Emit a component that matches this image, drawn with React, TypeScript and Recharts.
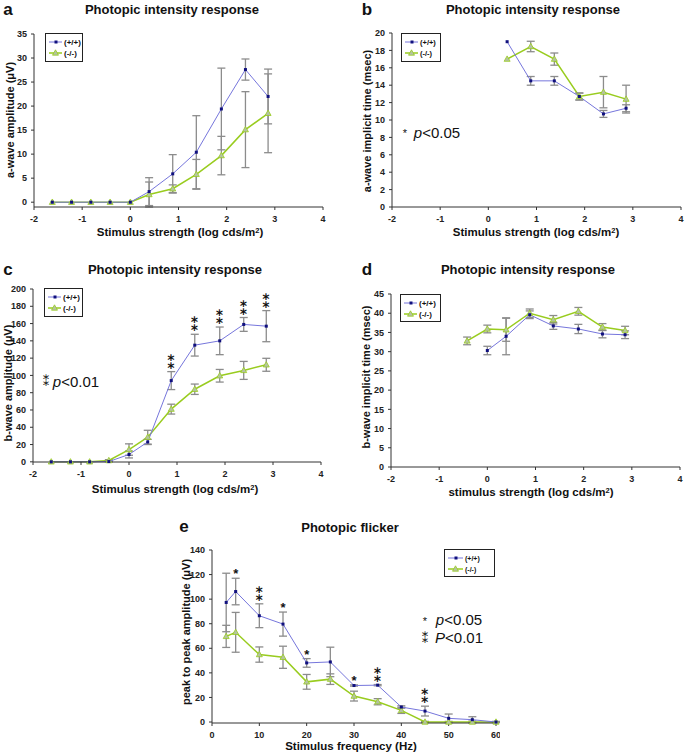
import React from "react";
import { LineChart, Line, XAxis, YAxis, ErrorBar } from "recharts";

const FONT = '"Liberation Sans", Arial, sans-serif';
const BLUE_LINE = "#7676dc";
const BLUE_DOT = "#10107e";
const GREEN_LINE = "#99cc1f";
const TRI_FILL = "#b4c3a2";
const ERR = "#8c8c8c";

// stimulus strength steps (log cds/m2)
const intensity = [-1.62, -1.22, -0.82, -0.42, 0, 0.39, 0.88, 1.37, 1.89, 2.39, 2.86];

// a: a-wave amplitude (uV)
const aWt = [0, 0, 0, 0, 0, 2.2, 5.9, 10.4, 19.4, 27.6, 22.0];
const aWtErr = [0, 0, 0, 0, 0, 2.9, 4.0, 7.6, 8.5, 2.2, 5.7];
const aKo = [0, 0, 0, 0, 0, 1.6, 2.8, 5.8, 9.7, 15.1, 18.5];
const aKoErr = [0, 0, 0, 0, 0, 2.6, 0.8, 3.1, 4.0, 7.9, 8.2];

// b: a-wave implicit time (msec), from 0.39
const bWt = [19.0, 14.5, 14.5, 12.7, 10.7, 11.35];
const bWtErr = [0, 0.5, 0.5, 0.4, 0.4, 0.4];
const bKo = [17.0, 18.45, 17.0, 12.7, 13.2, 12.4];
const bKoErr = [0, 0.6, 0.7, 0.4, 1.8, 1.6];

// c: b-wave amplitude (uV)
const cWt = [0, 0, 0, 0.3, 8.5, 23, 94, 135, 140, 159, 157];
const cWtErr = [0, 0, 0, 0.5, 4, 3, 10.4, 12.6, 16, 8, 18];
const cKo = [0, 0, 0, 1.5, 14.2, 28.5, 61, 84, 99.6, 105.8, 112.3];
const cKoErr = [0, 0, 0, 1, 6.6, 8, 5.7, 6, 7.3, 10.4, 7.5];
const cStars = [0, 0, 0, 0, 0, 0, 2, 2, 2, 2, 2];

// d: b-wave implicit time (msec); wt from 0, ko from -0.42
const dWt = [30.3, 34.0, 39.6, 36.7, 35.9, 34.6, 34.4];
const dWtErr = [1.1, 4.8, 1.0, 0.9, 1.2, 1.0, 1.0];
const dKo = [32.8, 35.9, 35.7, 40.0, 38.3, 40.5, 36.4, 35.5];
const dKoErr = [1.0, 1.0, 3.0, 1.1, 1.1, 1.0, 0.9, 1.1];

// e: flicker, peak to peak amplitude (uV)
const freq = [3, 5, 10, 15, 20, 25, 30, 35, 40, 45, 50, 55, 60];
const eWt = [97.3, 106.2, 86.5, 79.7, 48.1, 48.9, 29.7, 30.0, 12.2, 8.9, 3.0, 1.9, 0];
const eWtErr = [23.8, 10.8, 9.7, 9.8, 3.5, 12, 0.5, 0.5, 1, 4, 3.5, 2.4, 0];
const eKo = [69.7, 73, 54.9, 52.7, 32.7, 34.9, 21.1, 16.5, 9.5, 0, 0, 0, 0];
const eKoErr = [9, 16.2, 6.2, 9, 6, 4.3, 4, 2.5, 2.5, 0.5, 0.5, 0.8, 0.5];
const eStars = [0, 1, 2, 1, 1, 0, 1, 2, 0, 2, 0, 0, 0];

const logTicks = [-2, -1, 0, 1, 2, 3, 4];

const series = (xs: number[], ys: number[], es: number[]) =>
  ys.map((y, i) => ({ x: xs[i], y, e: es[i] }));

const starPoints = (xs: number[], ys: number[], es: number[], n: number[]) =>
  xs.map((x, i) => ({ x, y: ys[i] + es[i], n: n[i] })).filter((p) => p.n > 0);

const panels = [
  {
    id: "a",
    plot: { left: 34, top: 34, right: 323, bottom: 207 },
    xDomain: [-2, 4], xTicks: logTicks,
    yDomain: [0, 35], yTicks: [0, 5, 10, 15, 20, 25, 30, 35],
    wt: series(intensity, aWt, aWtErr),
    ko: series(intensity, aKo, aKoErr),
    stars: [],
    legend: { left: 45, top: 33, width: 38, height: 29, lineW: 13, fs: 8 },
  },
  {
    id: "b",
    plot: { left: 392, top: 33, right: 681, bottom: 207 },
    xDomain: [-2, 4], xTicks: logTicks,
    yDomain: [0, 20], yTicks: [0, 2, 4, 6, 8, 10, 12, 14, 16, 18, 20],
    wt: series(intensity.slice(5), bWt, bWtErr),
    ko: series(intensity.slice(5), bKo, bKoErr),
    stars: [],
    legend: { left: 401, top: 33, width: 40, height: 29, lineW: 13, fs: 7.5 },
  },
  {
    id: "c",
    plot: { left: 33, top: 289, right: 321, bottom: 462 },
    xDomain: [-2, 4], xTicks: logTicks,
    yDomain: [0, 200], yTicks: [0, 20, 40, 60, 80, 100, 120, 140, 160, 180, 200],
    wt: series(intensity, cWt, cWtErr),
    ko: series(intensity, cKo, cKoErr),
    stars: starPoints(intensity, cWt, cWtErr, cStars),
    legend: { left: 44, top: 288, width: 39, height: 29, lineW: 13, fs: 8 },
  },
  {
    id: "d",
    plot: { left: 391, top: 294, right: 680, bottom: 467 },
    xDomain: [-2, 4], xTicks: logTicks,
    yDomain: [0, 45], yTicks: [0, 5, 10, 15, 20, 25, 30, 35, 40, 45],
    wt: series(intensity.slice(4), dWt, dWtErr),
    ko: series(intensity.slice(3), dKo, dKoErr),
    stars: [],
    legend: { left: 400, top: 294, width: 41, height: 28, lineW: 13, fs: 8 },
  },
  {
    id: "e",
    plot: { left: 212, top: 550, right: 496, bottom: 723 },
    xDomain: [0, 60], xTicks: [0, 10, 20, 30, 40, 50, 60],
    yDomain: [0, 140], yTicks: [0, 20, 40, 60, 80, 100, 120, 140],
    wt: series(freq, eWt, eWtErr),
    ko: series(freq, eKo, eKoErr),
    stars: starPoints(freq, eWt, eWtErr, eStars),
    legend: { left: 444, top: 549, width: 51, height: 28, lineW: 15, fs: 7 },
  },
];

const SquareDot = (p: any) => {
  if (p.cx == null || p.cy == null) return <g key={p.key} />;
  return <rect key={p.key} x={p.cx - 1.5} y={p.cy - 1.5} width={3} height={3} fill={BLUE_DOT} />;
};

const TriDot = (p: any) => {
  if (p.cx == null || p.cy == null) return <g key={p.key} />;
  const { cx, cy } = p;
  return (
    <polygon
      key={p.key}
      points={`${cx},${cy - 3.2} ${cx - 3},${cy + 2.2} ${cx + 3},${cy + 2.2}`}
      fill={TRI_FILL}
      stroke={GREEN_LINE}
      strokeWidth={0.8}
    />
  );
};

// significance stars above the error bar top: "*" or the stacked "⁑"
const StarDot = (p: any) => {
  if (p.cx == null || p.cy == null) return <g key={p.key} />;
  const two = p.payload.n === 2;
  return (
    <text
      key={p.key}
      x={p.cx}
      y={two ? p.cy - 3 : p.cy}
      textAnchor="middle"
      fontSize={two ? 17 : 13}
      fontWeight="bold"
      fontFamily={two ? '"DejaVu Sans", sans-serif' : FONT}
      fill="#111"
    >
      {two ? "⁑" : "*"}
    </text>
  );
};

const tickStyle = { fontSize: 9, fontWeight: "bold", fill: "#222", fontFamily: FONT };

function Panel({ cfg }: { cfg: any }) {
  const { plot } = cfg;
  const yW = 34;
  const xH = 30;
  const mt = 8;
  const mr = 4;
  const w = plot.right - plot.left + yW + mr;
  const h = plot.bottom - plot.top + mt + xH;
  return (
    <div style={{ position: "absolute", left: plot.left - yW, top: plot.top - mt }}>
      <LineChart width={w} height={h} margin={{ top: mt, right: mr, bottom: 0, left: 0 }}>
        <XAxis
          type="number"
          dataKey="x"
          domain={cfg.xDomain}
          ticks={cfg.xTicks}
          interval={0}
          height={xH}
          tickSize={3}
          tickMargin={6}
          tick={tickStyle}
          stroke="#333"
        />
        <YAxis
          type="number"
          dataKey="y"
          domain={cfg.yDomain}
          ticks={cfg.yTicks}
          interval={0}
          width={yW}
          tickSize={3}
          tickMargin={4}
          tick={tickStyle}
          stroke="#333"
        />
        <Line
          data={cfg.ko}
          dataKey="y"
          stroke={GREEN_LINE}
          strokeWidth={1.5}
          dot={TriDot}
          activeDot={false}
          isAnimationActive={false}
        >
          <ErrorBar dataKey="e" direction="y" width={4} stroke={ERR} strokeWidth={1.3} />
        </Line>
        <Line
          data={cfg.wt}
          dataKey="y"
          stroke={BLUE_LINE}
          strokeWidth={1}
          dot={SquareDot}
          activeDot={false}
          isAnimationActive={false}
        >
          <ErrorBar dataKey="e" direction="y" width={4} stroke={ERR} strokeWidth={1.3} />
        </Line>
        {cfg.stars.length > 0 && (
          <Line
            data={cfg.stars}
            dataKey="y"
            stroke="none"
            dot={StarDot}
            activeDot={false}
            isAnimationActive={false}
          />
        )}
      </LineChart>
    </div>
  );
}

function LegendBox({ lg }: { lg: any }) {
  const row = (top: number, label: string, tri: boolean) => (
    <div style={{ position: "absolute", left: 2, top, height: 10, display: "flex", alignItems: "center" }}>
      <svg width={lg.lineW + 2} height={10}>
        <line x1={1} y1={5} x2={lg.lineW + 1} y2={5} stroke={tri ? GREEN_LINE : BLUE_LINE} strokeWidth={tri ? 1.5 : 1} />
        {tri ? (
          <polygon
            points={`${lg.lineW / 2 + 1},1.8 ${lg.lineW / 2 - 2},7.2 ${lg.lineW / 2 + 4},7.2`}
            fill={TRI_FILL}
            stroke={GREEN_LINE}
            strokeWidth={0.8}
          />
        ) : (
          <rect x={lg.lineW / 2} y={3.5} width={3} height={3} fill={BLUE_DOT} />
        )}
      </svg>
      <span style={{ marginLeft: 1, fontSize: lg.fs, fontWeight: "bold", fontFamily: FONT, color: "#111" }}>{label}</span>
    </div>
  );
  return (
    <div
      style={{
        position: "absolute",
        left: lg.left,
        top: lg.top,
        width: lg.width,
        height: lg.height,
        border: "1.5px solid #222",
        boxSizing: "border-box",
        background: "#fff",
      }}
    >
      {row(3, "(+/+)", false)}
      {row(14, "(-/-)", true)}
    </div>
  );
}

function Txt({ x, y, size, bold = true, rotate = false, family = FONT, children }: any) {
  return (
    <div
      style={{
        position: "absolute",
        left: x,
        top: y,
        transform: rotate ? "translate(-50%,-50%) rotate(-90deg)" : "translate(-50%,-50%)",
        whiteSpace: "nowrap",
        fontFamily: family,
        fontSize: size,
        fontWeight: bold ? "bold" : "normal",
        color: "#111",
        lineHeight: 1,
      }}
    >
      {children}
    </div>
  );
}

const sup = <sup style={{ fontSize: "0.65em", lineHeight: 0, verticalAlign: "0.5em" }}>2</sup>;
const DJV = '"DejaVu Sans", sans-serif';

export default function App() {
  return (
    <div style={{ position: "relative", width: 685, height: 754, background: "#fff", overflow: "hidden" }}>
      <style>{"body{margin:0}"}</style>
      {panels.map((p) => (
        <Panel key={p.id} cfg={p} />
      ))}
      {panels.map((p) => (
        <LegendBox key={"l" + p.id} lg={p.legend} />
      ))}

      {/* panel letters and titles */}
      <Txt x={8} y={9} size={17}>a</Txt>
      <Txt x={172} y={9} size={13}>Photopic intensity response</Txt>
      <Txt x={367} y={9} size={17}>b</Txt>
      <Txt x={533} y={9} size={13}>Photopic intensity response</Txt>
      <Txt x={8} y={269} size={17}>c</Txt>
      <Txt x={175} y={269} size={13}>Photopic intensity response</Txt>
      <Txt x={367} y={269} size={17}>d</Txt>
      <Txt x={528} y={269} size={13}>Photopic intensity response</Txt>
      <Txt x={184} y={526} size={17}>e</Txt>
      <Txt x={350} y={527} size={13}>Photopic flicker</Txt>

      {/* axis titles */}
      <Txt x={180} y={233} size={11.5}>Stimulus strength (log cds/m{sup})</Txt>
      <Txt x={536} y={233} size={11.5}>Stimulus strength (log cds/m{sup})</Txt>
      <Txt x={175} y={490} size={11.5}>Stimulus strength (log cds/m{sup})</Txt>
      <Txt x={531} y={493} size={11.5}>stimulus strength (log cds/m{sup})</Txt>
      <Txt x={351} y={747} size={11.5}>Stimulus frequency (Hz)</Txt>
      <Txt x={10} y={120} size={11} rotate>a-wave amplitude (μV)</Txt>
      <Txt x={367} y={121} size={11} rotate>a-wave implicit time (msec)</Txt>
      <Txt x={8} y={383} size={11} rotate>b-wave amplitude (μV)</Txt>
      <Txt x={366} y={377} size={11} rotate>b-wave implicit time (msec)</Txt>
      <Txt x={186} y={632} size={11} rotate>peak to peak amplitude (μV)</Txt>

      {/* significance notes */}
      <Txt x={405} y={133} size={11} bold={false}>*</Txt>
      <Txt x={437} y={132} size={15} bold={false}><i>p</i>&lt;0.05</Txt>
      <Txt x={46} y={381} size={13} bold={false} family={DJV}>⁑</Txt>
      <Txt x={76} y={381} size={15} bold={false}><i>p</i>&lt;0.01</Txt>
      <Txt x={425} y={621} size={11} bold={false}>*</Txt>
      <Txt x={459} y={619} size={15} bold={false}><i>p</i>&lt;0.05</Txt>
      <Txt x={425} y={638} size={13} bold={false} family={DJV}>⁑</Txt>
      <Txt x={459} y={637} size={15} bold={false}><i>P</i>&lt;0.01</Txt>
    </div>
  );
}
